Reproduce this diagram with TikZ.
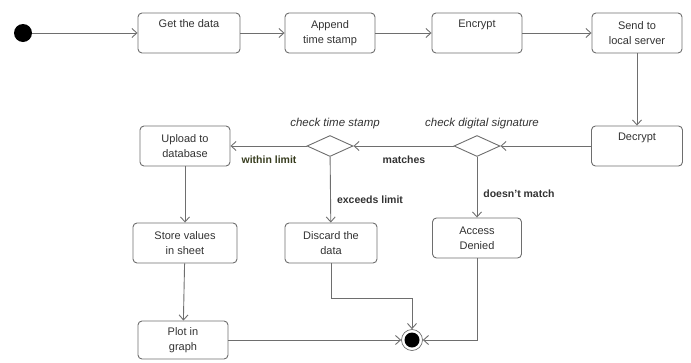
\documentclass[tikz,border=0pt]{standalone}
\usepackage{fontspec}
\setmainfont{Liberation Sans}
\usetikzlibrary{arrows.meta,shapes.geometric}
\definecolor{linecol}{RGB}{110,110,110}
\definecolor{txtcol}{RGB}{50,50,50}
\definecolor{olive}{RGB}{55,60,30}
\begin{document}
\begin{tikzpicture}[x=1pt,y=-1pt,
  box/.style={draw=linecol, line width=0.9pt, rounded corners=4pt, minimum height=40pt,
    align=center, inner sep=0pt, text=txtcol, font=\fontsize{11}{15}\selectfont},
  dec/.style={diamond, draw=linecol, line width=0.9pt, inner sep=0pt, aspect=2.2, minimum width=46pt, minimum height=21pt},
  arr/.style={draw=linecol, line width=0.9pt, -{Straight Barb[length=5pt,width=9pt]}},
  guard/.style={font=\bfseries\fontsize{10.5}{12}\selectfont, text=txtcol},
  note/.style={font=\itshape\fontsize{11.5}{13}\selectfont, text=txtcol}]
\useasboundingbox (0,0) rectangle (691,362);
% start
\node[circle, fill=black, minimum size=18pt, inner sep=0pt] (start) at (23,33) {};
% top row
\node[box, minimum width=102pt] (get) at (189,33) {Get the data\\ \strut};
\node[box, minimum width=90pt] (append) at (330,33) {Append\\time stamp};
\node[box, minimum width=90pt] (encrypt) at (477,33) {Encrypt\\ \strut};
\node[box, minimum width=90pt] (send) at (637,33) {Send to\\local server};
\node[box, minimum width=91pt] (decrypt) at (637,146) {Decrypt\\ \strut};
% decisions
\node[dec] (dsig) at (477,146) {};
\node[dec] (dtime) at (330,146) {};
\node[note] (lsig) at (482,124) {check digital signature};
\node[note] (ltime) at (335,124) {check time stamp};
% left column
\node[box, minimum width=90pt] (upload) at (185,146) {Upload to\\database};
\node[box, minimum width=104pt] (store) at (185,243) {Store values\\in sheet};
\node[box, minimum width=90pt, minimum height=38pt] (plot) at (183,340) {Plot in\\graph};
\node[box, minimum width=92pt] (discard) at (331,243) {Discard the\\data};
\node[box, minimum width=89pt] (access) at (477,238) {Access\\Denied};
% end
\node[circle, draw=linecol, line width=0.7pt, fill=white, minimum size=21pt, inner sep=0pt,
  path picture={\fill[black] (path picture bounding box.center) circle (7.5pt);}] (end) at (412,340) {};
\coordinate (dcorner) at (412,298);
% connectors
\draw[arr] (start) -- (get);
\draw[arr] (get) -- (append);
\draw[arr] (append) -- (encrypt);
\draw[arr] (encrypt) -- (send);
\draw[arr] (send) -- (decrypt);
\draw[arr] (decrypt) -- (dsig);
\draw[arr] (dsig) -- (dtime);
\draw[arr] (dtime) -- (upload);
\draw[arr] (dtime) -- (discard);
\draw[arr] (dsig) -- (access);
\draw[arr] (upload) -- (store);
\draw[arr] (store) -- (plot);
\draw[arr] (plot) -- (end);
\draw[arr] (discard.south) |- (dcorner) -- (end);
\draw[arr] (access.south) |- (end);
% guards
\node[guard, text=olive] (gwithin) at (269,160) {within limit};
\node[guard] (gmatch) at (404,160) {matches};
\node[guard] (gexceed) at (370,200) {exceeds limit};
\node[guard] (gnomatch) at (519,194) {doesn't match};
\end{tikzpicture}
\end{document}
